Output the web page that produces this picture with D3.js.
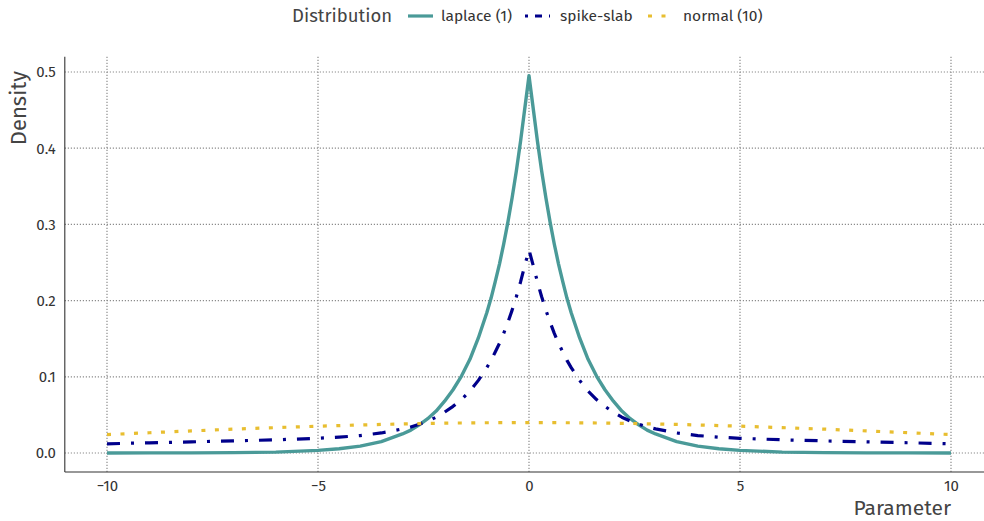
<!DOCTYPE html>
<html>
<head>
<meta charset="utf-8">
<script src="https://cdn.jsdelivr.net/npm/d3@7"></script>
<style>
  body { margin: 0; background: #fff; }
  text { font-family: "Fira Sans", "Noto Sans", "Open Sans", sans-serif; }
</style>
</head>
<body>
<div id="chart"></div>
<script>
// values
var xs = [-10, -9, -8, -7, -6, -5, -4.5, -4, -3.5, -3, -2.8, -2.6, -2.4, -2.2, -2, -1.8, -1.6, -1.4, -1.2,
          -1, -0.9, -0.8, -0.7, -0.6, -0.5, -0.4, -0.3, -0.2, -0.1,
          0,
          0.1, 0.2, 0.3, 0.4, 0.5, 0.6, 0.7, 0.8, 0.9, 1,
          1.2, 1.4, 1.6, 1.8, 2, 2.2, 2.4, 2.6, 2.8, 3, 3.5, 4, 4.5, 5, 6, 7, 8, 9, 10];

var laplace = [0.0000, 0.0001, 0.0002, 0.0005, 0.0012, 0.0034, 0.0056, 0.009, 0.015, 0.025, 0.030, 0.037, 0.045, 0.055, 0.068, 0.083, 0.101, 0.123, 0.151,
               0.184, 0.203, 0.225, 0.248, 0.274, 0.303, 0.335, 0.370, 0.409, 0.452,
               0.495,
               0.452, 0.409, 0.370, 0.335, 0.303, 0.274, 0.248, 0.225, 0.203, 0.184,
               0.151, 0.123, 0.101, 0.083, 0.068, 0.055, 0.045, 0.037, 0.030, 0.025, 0.015, 0.009, 0.0056, 0.0034, 0.0012, 0.0005, 0.0002, 0.0001, 0.0000];

var spikeSlab = [0.0121, 0.0134, 0.0146, 0.0159, 0.0173, 0.0193, 0.0208, 0.0229, 0.0263, 0.0316, 0.0342, 0.0378, 0.0419, 0.0470, 0.0536, 0.0612, 0.0702, 0.0813, 0.0953,
                 0.112, 0.1215, 0.1325, 0.144, 0.157, 0.1715, 0.1875, 0.205, 0.2245, 0.246,
                 0.2665,
                 0.246, 0.2245, 0.205, 0.1875, 0.1715, 0.157, 0.144, 0.1325, 0.1215, 0.112,
                 0.0953, 0.0813, 0.0702, 0.0612, 0.0536, 0.0470, 0.0419, 0.0378, 0.0342, 0.0316, 0.0263, 0.0229, 0.0208, 0.0193, 0.0173, 0.0159, 0.0146, 0.0134, 0.0121];

var normal = [0.0242, 0.0266, 0.0290, 0.0313, 0.0333, 0.0352, 0.0360, 0.0368, 0.0375, 0.0381, 0.0383, 0.0386, 0.0388, 0.0389, 0.0391, 0.0393, 0.0394, 0.0395, 0.0396,
              0.0397, 0.0397, 0.0398, 0.0398, 0.0398, 0.0398, 0.0399, 0.0399, 0.0399, 0.0399,
              0.0399,
              0.0399, 0.0399, 0.0399, 0.0399, 0.0398, 0.0398, 0.0398, 0.0398, 0.0397, 0.0397,
              0.0396, 0.0395, 0.0394, 0.0393, 0.0391, 0.0389, 0.0388, 0.0386, 0.0383, 0.0381, 0.0375, 0.0368, 0.0360, 0.0352, 0.0333, 0.0313, 0.0290, 0.0266, 0.0242];

var xTicks = [-10, -5, 0, 5, 10];
var yTicks = [0, 0.1, 0.2, 0.3, 0.4, 0.5];

var seriesNames = ["laplace (1)", "spike-slab", "normal (10)"];
var seriesColors = ["#4a9a98", "#00008b", "#e8be30"];
var seriesDash = [null, "13,11,3,11", "4,9.5"];
var seriesValues = [laplace, spikeSlab, normal];

var width = 984, height = 521;

var svg = d3.select("#chart").append("svg")
    .attr("width", width)
    .attr("height", height);

var x = d3.scaleLinear().domain([-10, 10]).range([107, 951]);
var y = d3.scaleLinear().domain([0, 0.5]).range([453, 72]);

var pLeft = x(-11), pRight = x(11), pTop = y(0.52), pBottom = y(-0.025);

// grid
svg.append("g").selectAll("line")
    .data(xTicks).enter().append("line")
    .attr("x1", function(d) { return x(d); })
    .attr("x2", function(d) { return x(d); })
    .attr("y1", pTop).attr("y2", pBottom)
    .attr("stroke", "#8c8c8c").attr("stroke-width", 1.2)
    .attr("stroke-dasharray", "1.2,1.8");

svg.append("g").selectAll("line")
    .data(yTicks).enter().append("line")
    .attr("y1", function(d) { return y(d); })
    .attr("y2", function(d) { return y(d); })
    .attr("x1", pLeft).attr("x2", pRight)
    .attr("stroke", "#8c8c8c").attr("stroke-width", 1.2)
    .attr("stroke-dasharray", "1.2,1.8");

// axes (no tick marks)
var xAxis = d3.axisBottom(x).tickValues(xTicks).tickSize(0).tickPadding(8)
    .tickFormat(function(d) { return d < 0 ? "\u2212" + Math.abs(d) : d; });
var gx = svg.append("g").attr("transform", "translate(0," + pBottom + ")").call(xAxis);
gx.select(".domain").remove();
gx.selectAll("text").attr("font-size", 15).attr("fill", "#333")
    .style("font-family", "'Fira Sans','Noto Sans',sans-serif");

var yAxis = d3.axisLeft(y).tickValues(yTicks).tickSize(0).tickPadding(9)
    .tickFormat(d3.format(".1f"));
var gy = svg.append("g").attr("transform", "translate(" + pLeft + ",0)").call(yAxis);
gy.select(".domain").remove();
gy.selectAll("text").attr("font-size", 15).attr("fill", "#333")
    .style("font-family", "'Fira Sans','Noto Sans',sans-serif");

svg.append("line").attr("x1", pLeft).attr("x2", pLeft).attr("y1", pTop).attr("y2", pBottom)
    .attr("stroke", "#333").attr("stroke-width", 1.1);
svg.append("line").attr("x1", pLeft).attr("x2", pRight).attr("y1", pBottom).attr("y2", pBottom)
    .attr("stroke", "#333").attr("stroke-width", 1.1);

// lines
var line = d3.line()
    .x(function(d, i) { return x(xs[i]); })
    .y(function(d) { return y(d); });

seriesValues.forEach(function(vals, i) {
    svg.append("path")
        .datum(vals)
        .attr("d", line)
        .attr("fill", "none")
        .attr("stroke", seriesColors[i])
        .attr("stroke-width", i == 0 ? 3.4 : 3.2)
        .attr("stroke-linejoin", "round")
        .attr("stroke-dasharray", seriesDash[i]);
});

// axis titles
svg.append("text").attr("x", x(10)).attr("y", 515)
    .attr("text-anchor", "end").attr("font-size", 21).attr("fill", "#444")
    .text("Parameter");
svg.append("text")
    .attr("transform", "translate(26,71) rotate(-90)")
    .attr("text-anchor", "end").attr("font-size", 22).attr("fill", "#444")
    .text("Density");

// legend
var legend = svg.append("g");
legend.append("text").attr("x", 292).attr("y", 22).attr("font-size", 18.5).attr("fill", "#444")
    .text("Distribution");
var keyX = [408, 525, 648];
var labX = [441, 560, 683];
seriesNames.forEach(function(name, i) {
    legend.append("line")
        .attr("x1", keyX[i]).attr("x2", keyX[i] + 25)
        .attr("y1", 16).attr("y2", 16)
        .attr("stroke", seriesColors[i]).attr("stroke-width", 3.2)
        .attr("stroke-dasharray", i == 1 ? "3,7,7,7" : (i == 2 ? "4,9.5" : null));
    legend.append("text").attr("x", labX[i]).attr("y", 21)
        .attr("font-size", 15.5).attr("fill", "#333")
        .text(name);
});
</script>
</body>
</html>
